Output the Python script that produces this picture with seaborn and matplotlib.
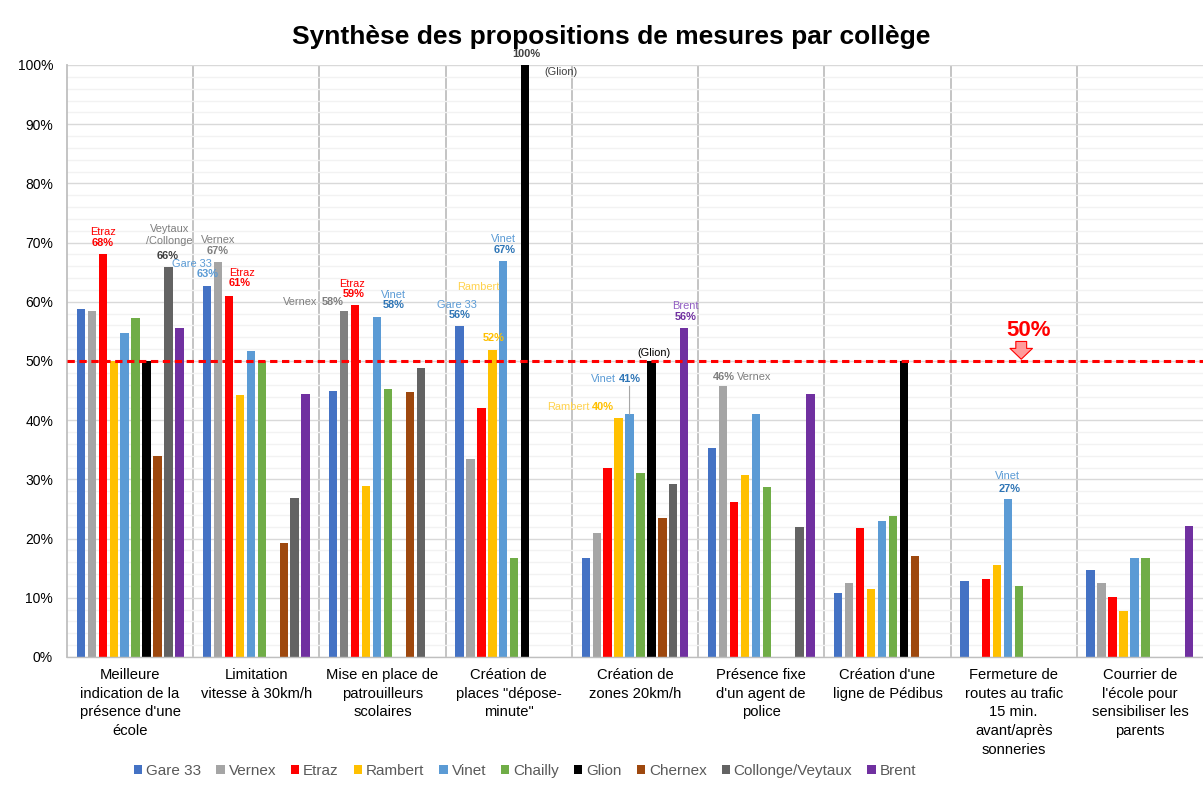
import numpy as np
import pandas as pd
import matplotlib
matplotlib.use("Agg")
import matplotlib.pyplot as plt
from matplotlib.patches import Patch
from matplotlib.ticker import MultipleLocator, FuncFormatter
import seaborn as sns

# ---------------- Data ----------------
categories = [
    "Meilleure\nindication de la\nprésence d'une\nécole",
    "Limitation\nvitesse à 30km/h",
    "Mise en place de\npatrouilleurs\nscolaires",
    "Création de\nplaces \"dépose-\nminute\"",
    "Création de\nzones 20km/h",
    "Présence fixe\nd'un agent de\npolice",
    "Création d'une\nligne de Pédibus",
    "Fermeture de\nroutes au trafic\n15 min.\navant/après\nsonneries",
    "Courrier de\nl'école pour\nsensibiliser les\nparents",
]

schools = ["Gare 33", "Vernex", "Etraz", "Rambert", "Vinet", "Chailly",
           "Glion", "Chernex", "Collonge/Veytaux", "Brent"]

gare33 = [58.8, 62.7, 45.0, 55.9, 16.8, 35.3, 10.8, 12.8, 14.7]
vernex = [58.4, 66.7, 58.4, 33.4, 20.9, 45.8, 12.5, None, 12.5]
etraz = [68.1, 60.9, 59.5, 42.1, 31.9, 26.2, 21.8, 13.1, 10.1]
rambert = [50.0, 44.2, 28.9, 51.9, 40.4, 30.8, 11.5, 15.5, 7.8]
vinet = [54.7, 51.7, 57.5, 66.9, 41.0, 41.0, 23.0, 26.7, 16.7]
chailly = [57.2, 50.0, 45.3, 16.7, 31.0, 28.7, 23.9, 12.0, 16.7]
glion = [50.0, None, None, 100.0, 50.0, None, 50.0, None, None]
chernex = [34.0, 19.2, 44.8, None, 23.4, None, 17.1, None, None]
collonge = [65.8, 26.9, 48.8, None, 29.3, 22.0, None, None, None]
brent = [55.6, 44.4, None, None, 55.5, 44.4, None, None, 22.2]

series = [gare33, vernex, etraz, rambert, vinet, chailly,
          glion, chernex, collonge, brent]

colors = ["#4472C4", "#A5A5A5", "#FF0000", "#FFC000", "#5B9BD5",
          "#70AD47", "#000000", "#9E480E", "#636363", "#7030A0"]

threshold = 50

# ---------------- Long-form table ----------------
rows = []
for name, vals in zip(schools, series):
    for cat, v in zip(categories, vals):
        rows.append({"Mesure": cat, "Collège": name,
                     "Part": np.nan if v is None else v})
df = pd.DataFrame(rows)

# ---------------- Setup ----------------
sns.set_theme(style="white")
plt.rcParams["font.family"] = ["Liberation Sans", "DejaVu Sans"]

fig = plt.figure(figsize=(12.03, 7.91), dpi=100)
ax = fig.add_axes([67 / 1203, 134 / 791, 1 - 67 / 1203, (726 - 134) / 791])

group_w = 0.867
slot = group_w / len(schools)

sns.barplot(
    data=df,
    x="Mesure",
    y="Part",
    hue="Collège",
    order=categories,
    hue_order=schools,
    palette=colors,
    saturation=1,
    width=group_w,
    gap=0.24,
    linewidth=0,
    legend=False,
    ax=ax
)

# darker grey Vernex bar in "patrouilleurs"
for bar in ax.containers[1]:
    if round(bar.get_x() + bar.get_width() / 2) == 2:
        bar.set_facecolor("#7F7F7F")

# ---------------- Axes styling ----------------
ax.set_xlim(-0.5, len(categories) - 0.5)
ax.set_ylim(0, 100)
ax.set_xlabel("")
ax.set_ylabel("")

ax.yaxis.set_major_locator(MultipleLocator(10))
ax.yaxis.set_minor_locator(MultipleLocator(2))
ax.yaxis.set_major_formatter(FuncFormatter(lambda v, p: f"{v:.0f}%"))
ax.grid(axis="y", which="major", color="#D9D9D9", lw=1.0)
ax.grid(axis="y", which="minor", color="#F2F2F2", lw=1.0)
ax.set_axisbelow(True)

ax.set_xticks(range(len(categories)))
ax.set_xticklabels(categories, fontsize=10.6, linespacing=1.42, color="#000000")
ax.set_xticks(np.arange(-0.5, len(categories)), minor=True)
ax.tick_params(axis="x", which="major", length=0, pad=8)
ax.tick_params(axis="x", which="minor", length=5, color="#BFBFBF", width=1.2)
ax.tick_params(axis="y", which="both", length=0, pad=10, labelsize=10,
               labelcolor="#000000")

for b in np.arange(0.5, len(categories) - 0.5):
    ax.axvline(b, color="#BFBFBF", lw=1.3, zorder=0.5)

for side in ["top", "right"]:
    ax.spines[side].set_visible(False)
ax.spines["left"].set_color("#BFBFBF")
ax.spines["bottom"].set_color("#BFBFBF")
ax.spines["left"].set_linewidth(1.3)
ax.spines["bottom"].set_linewidth(1.0)

# 50% threshold
ax.axhline(threshold, color="#FF0000", lw=2.2, ls=(0, (2.4, 1.5)), zorder=3)
ax.text(7.115, 55.2, "50%", color="#FF0000", fontsize=16, fontweight="bold",
        ha="center", va="center")
ax.annotate(
    "",
    xy=(7.06, threshold + 0.3),
    xytext=(7.06, threshold + 3.3),
    arrowprops=dict(arrowstyle="simple,head_width=1.35,head_length=0.65,tail_width=0.65",
                    fc="#FF9B9B", ec="#FF0000", lw=0.8, shrinkA=0, shrinkB=0),
)


# ---------------- Labels ----------------
def bar_x(i, j):
    return i - group_w / 2 + slot * (j + 0.5)


def put(i, j, text, dx, dy, color, bold=False, ha="center", size=7.9):
    val = series[j][i]
    ax.annotate(
        text,
        xy=(bar_x(i, j), val),
        xytext=(dx, dy),
        textcoords="offset pixels",
        ha=ha,
        va="center",
        fontsize=size,
        fontweight="bold" if bold else "normal",
        color=color,
        annotation_clip=False,
        linespacing=1.25,
    )


GR, GRD = "#7F7F7F", "#404040"
BL, BLD = "#5B9BD5", "#2E75B6"
RD = "#FF0000"
YL, YLL = "#FFC000", "#FFD24D"
PU, PUL = "#7030A0", "#9360C4"

# Meilleure indication
put(0, 2, "68%", 0, 11, RD, True)
put(0, 2, "Etraz", 0, 22, RD)
put(0, 8, "66%", -1, 11, GRD, True)
put(0, 8, "Veytaux\n/Collonge", 1, 32, GR)
# Limitation 30km/h
put(1, 0, "63%", 1, 12, BL, True)
put(1, 0, "Gare 33", -15, 22, BL)
put(1, 1, "67%", 0, 11, GR, True)
put(1, 1, "Vernex", 0, 22, GR)
put(1, 2, "61%", 11, 13, RD, True)
put(1, 2, "Etraz", 13, 23, RD)
# Patrouilleurs
put(2, 1, "58%", -1, 9, GR, True, ha="right")
put(2, 1, "Vernex", -27, 9, GR, ha="right")
put(2, 2, "59%", -2, 11, RD, True)
put(2, 2, "Etraz", -3, 21, RD)
put(2, 4, "58%", 17, 12, BLD, True)
put(2, 4, "Vinet", 16, 22, BL)
# Dépose-minute
put(3, 0, "56%", 0, 11, BLD, True)
put(3, 0, "Gare 33", -3, 21, BL)
put(3, 3, "52%", 1, 12, YL, True)
put(3, 3, "Rambert", -14, 63, YLL)
put(3, 4, "67%", 1, 11, BLD, True)
put(3, 4, "Vinet", 0, 22, BL)
put(3, 6, "100%", 1, 11, GRD, True)
put(3, 6, "(Glion)", 36, -7, GRD)
# Zones 20km/h
put(4, 3, "40%", -5, 11, YL, True, ha="right")
put(4, 3, "Rambert", -29, 11, YLL, ha="right")
put(4, 4, "41%", 11, 35, BLD, True, ha="right")
put(4, 4, "Vinet", -14, 35, BL, ha="right")
ax.annotate("", xy=(bar_x(4, 4), vinet[4]), xytext=(0, 28),
            textcoords="offset pixels",
            arrowprops=dict(arrowstyle="-", color="#A6A6A6", lw=0.8,
                            shrinkA=0, shrinkB=0))
put(4, 6, "(Glion)", 3, 8, "#000000")
put(4, 9, "56%", 1, 11, PU, True)
put(4, 9, "Brent", 1, 22, PUL)
# Agent de police
put(5, 1, "46%", -10, 9, GR, True, ha="left")
put(5, 1, "Vernex", 14, 9, GR, ha="left")
# Fermeture de routes
put(7, 4, "27%", 1, 10, BLD, True)
put(7, 4, "Vinet", -1, 23, BL)

# ---------------- Title & legend ----------------
fig.text(611.5 / 1203, 1 - 37 / 791,
         "Synthèse des propositions de mesures par collège",
         ha="center", va="center", fontsize=19, fontweight="bold",
         color="#000000")

handles = [Patch(facecolor=c, edgecolor="none") for c in colors]
fig.legend(
    handles,
    schools,
    loc="center",
    bbox_to_anchor=(525 / 1203, 1 - 771 / 791),
    ncol=len(schools),
    frameon=False,
    fontsize=11,
    labelcolor="#595959",
    handlelength=0.55,
    handleheight=0.55,
    handletextpad=0.25,
    columnspacing=0.98,
)

fig.savefig("out.png", dpi=100)
